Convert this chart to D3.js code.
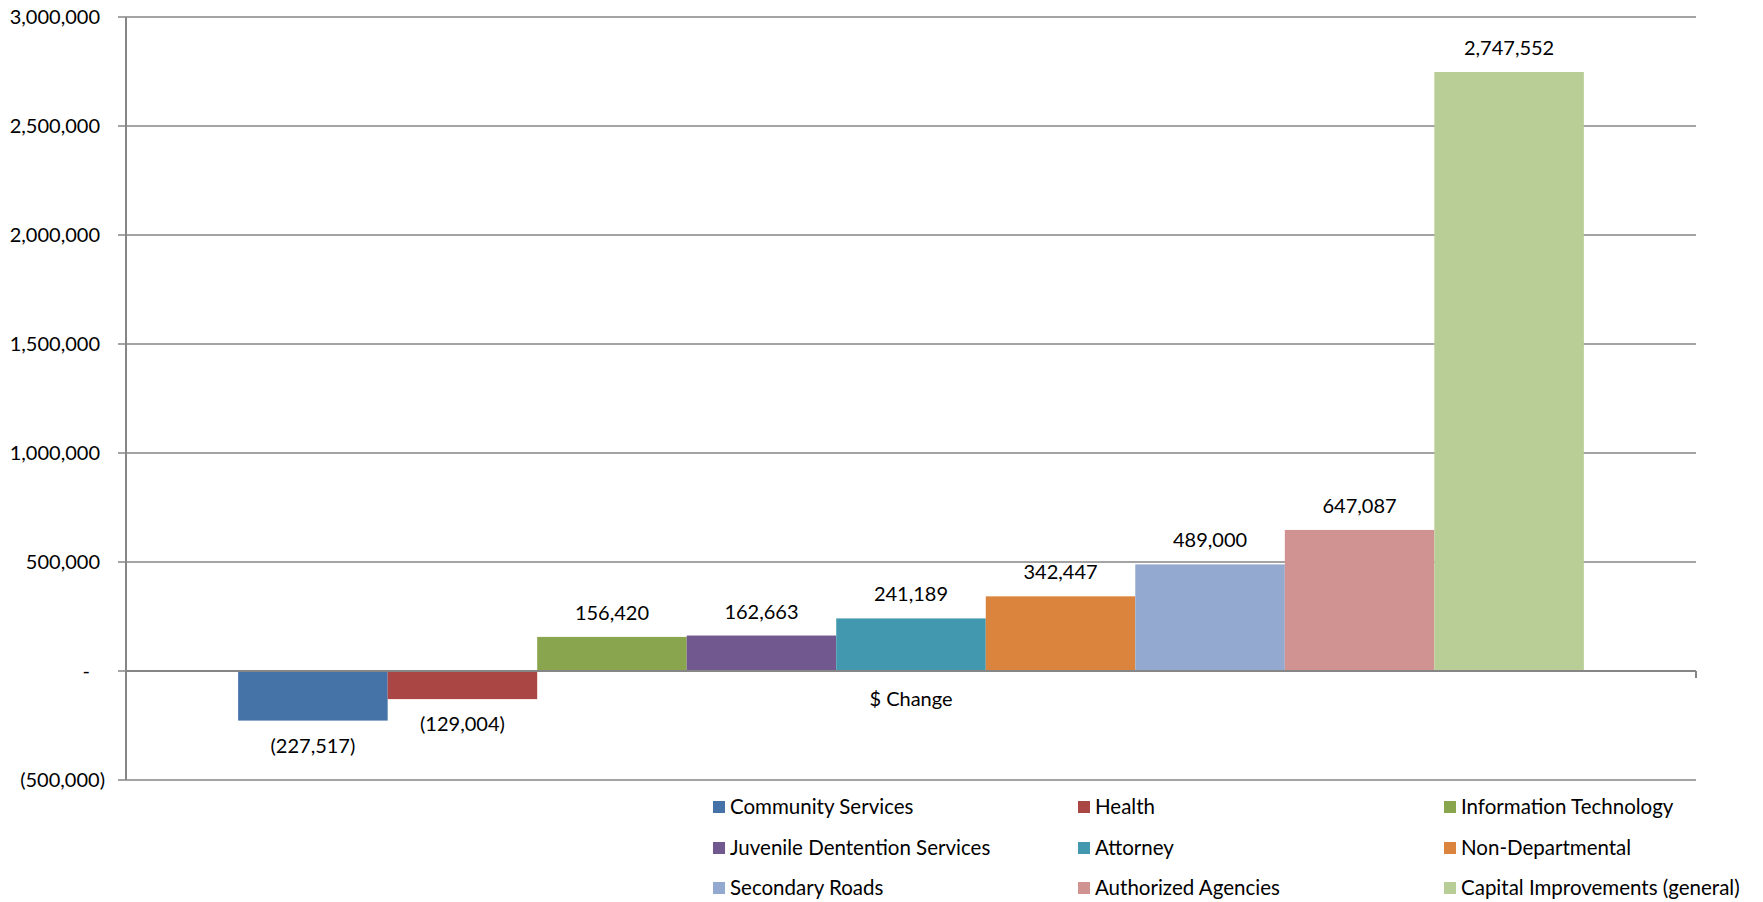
<!DOCTYPE html>
<html>
<head>
<meta charset="utf-8">
<script src="https://cdn.jsdelivr.net/npm/d3@7"></script>
<style>
  body { margin: 0; background: #fff; }
  svg text { font-family: Lato, "Open Sans", sans-serif; fill: #000; }
</style>
</head>
<body>
<script>
// Width and height
var w = 1763;
var h = 902;

// Data
var category = "$ Change";
var departments = [
  "Community Services", "Health", "Information Technology",
  "Juvenile Dentention Services", "Attorney", "Non-Departmental",
  "Secondary Roads", "Authorized Agencies", "Capital Improvements (general)"
];
var changes = [-227517, -129004, 156420, 162663, 241189, 342447, 489000, 647087, 2747552];
var colors = ["#4572A7", "#AA4643", "#89A54E", "#71588F", "#4198AF",
              "#DB843D", "#93A9CF", "#D19392", "#B9CD96"];
var yTicks = [-500000, 0, 500000, 1000000, 1500000, 2000000, 2500000, 3000000];

// Plot area (note: "top" is a reserved window global, so use plot* names)
var plotLeft = 126, plotRight = 1696, plotTop = 17, plotBottom = 780;
var fontSize = "20px";

var fmt = d3.format(",");
function label(v) {
  if (v === 0) return "-";
  return v < 0 ? "(" + fmt(-v) + ")" : fmt(v);
}

// Scales
var xGroup = d3.scaleBand()
  .domain([category])
  .range([plotLeft, plotRight])
  .paddingInner(0)
  .paddingOuter(0.75 / 9);

var xBar = d3.scaleBand()
  .domain(departments)
  .range([0, xGroup.bandwidth()]);

var yScale = d3.scaleLinear()
  .domain([-500000, 3000000])
  .range([plotBottom, plotTop]);

var svg = d3.select("body")
  .append("svg")
  .attr("width", w)
  .attr("height", h);

// Gridlines
svg.append("g")
  .selectAll("line")
  .data(yTicks)
  .enter()
  .append("line")
  .attr("x1", plotLeft - 8)
  .attr("x2", plotRight)
  .attr("y1", function(d) { return yScale(d); })
  .attr("y2", function(d) { return yScale(d); })
  .attr("stroke", "#868686")
  .attr("stroke-width", 1.5);

// Y tick labels
svg.append("g")
  .selectAll("text")
  .data(yTicks)
  .enter()
  .append("text")
  .attr("x", function(d) { return d < 0 ? 105 : (d === 0 ? 90 : 100); })
  .attr("y", function(d) { return yScale(d) + 7; })
  .attr("text-anchor", "end")
  .attr("font-size", fontSize)
  .text(label);

// Bars
var g = svg.append("g")
  .attr("transform", "translate(" + xGroup(category) + ",0)");

g.selectAll("rect")
  .data(changes)
  .enter()
  .append("rect")
  .attr("x", function(d, i) { return xBar(departments[i]); })
  .attr("y", function(d) { return yScale(Math.max(0, d)); })
  .attr("width", xBar.bandwidth())
  .attr("height", function(d) { return Math.abs(yScale(d) - yScale(0)); })
  .attr("fill", function(d, i) { return colors[i]; });

// Data labels
g.selectAll("text")
  .data(changes)
  .enter()
  .append("text")
  .attr("x", function(d, i) { return xBar(departments[i]) + xBar.bandwidth() / 2; })
  .attr("y", function(d) { return d < 0 ? yScale(d) + 32 : yScale(d) - 17; })
  .attr("text-anchor", "middle")
  .attr("font-size", fontSize)
  .text(label);

// Y axis line
svg.append("line")
  .attr("x1", plotLeft).attr("x2", plotLeft)
  .attr("y1", plotTop).attr("y2", plotBottom)
  .attr("stroke", "#868686")
  .attr("stroke-width", 2);

// Category axis (zero line) with end tick
svg.append("line")
  .attr("x1", plotLeft).attr("x2", plotRight)
  .attr("y1", yScale(0)).attr("y2", yScale(0))
  .attr("stroke", "#868686")
  .attr("stroke-width", 2);

svg.append("line")
  .attr("x1", plotRight).attr("x2", plotRight)
  .attr("y1", yScale(0)).attr("y2", yScale(0) + 7)
  .attr("stroke", "#868686")
  .attr("stroke-width", 2);

// Category label
svg.append("text")
  .attr("x", xGroup(category) + xGroup.bandwidth() / 2)
  .attr("y", yScale(0) + 35)
  .attr("text-anchor", "middle")
  .attr("font-size", fontSize)
  .text(category);

// Legend
var legendCols = [713, 1078, 1444];
var legendRows = [807, 848, 888];

var legend = svg.append("g")
  .selectAll("g")
  .data(departments)
  .enter()
  .append("g")
  .attr("transform", function(d, i) {
    return "translate(" + legendCols[i % 3] + "," + legendRows[Math.floor(i / 3)] + ")";
  });

legend.append("rect")
  .attr("x", 0)
  .attr("y", -6)
  .attr("width", 12)
  .attr("height", 12)
  .attr("fill", function(d, i) { return colors[i]; });

legend.append("text")
  .attr("x", 17)
  .attr("y", 7)
  .attr("font-size", "20.5px")
  .text(function(d) { return d; });
</script>
</body>
</html>
